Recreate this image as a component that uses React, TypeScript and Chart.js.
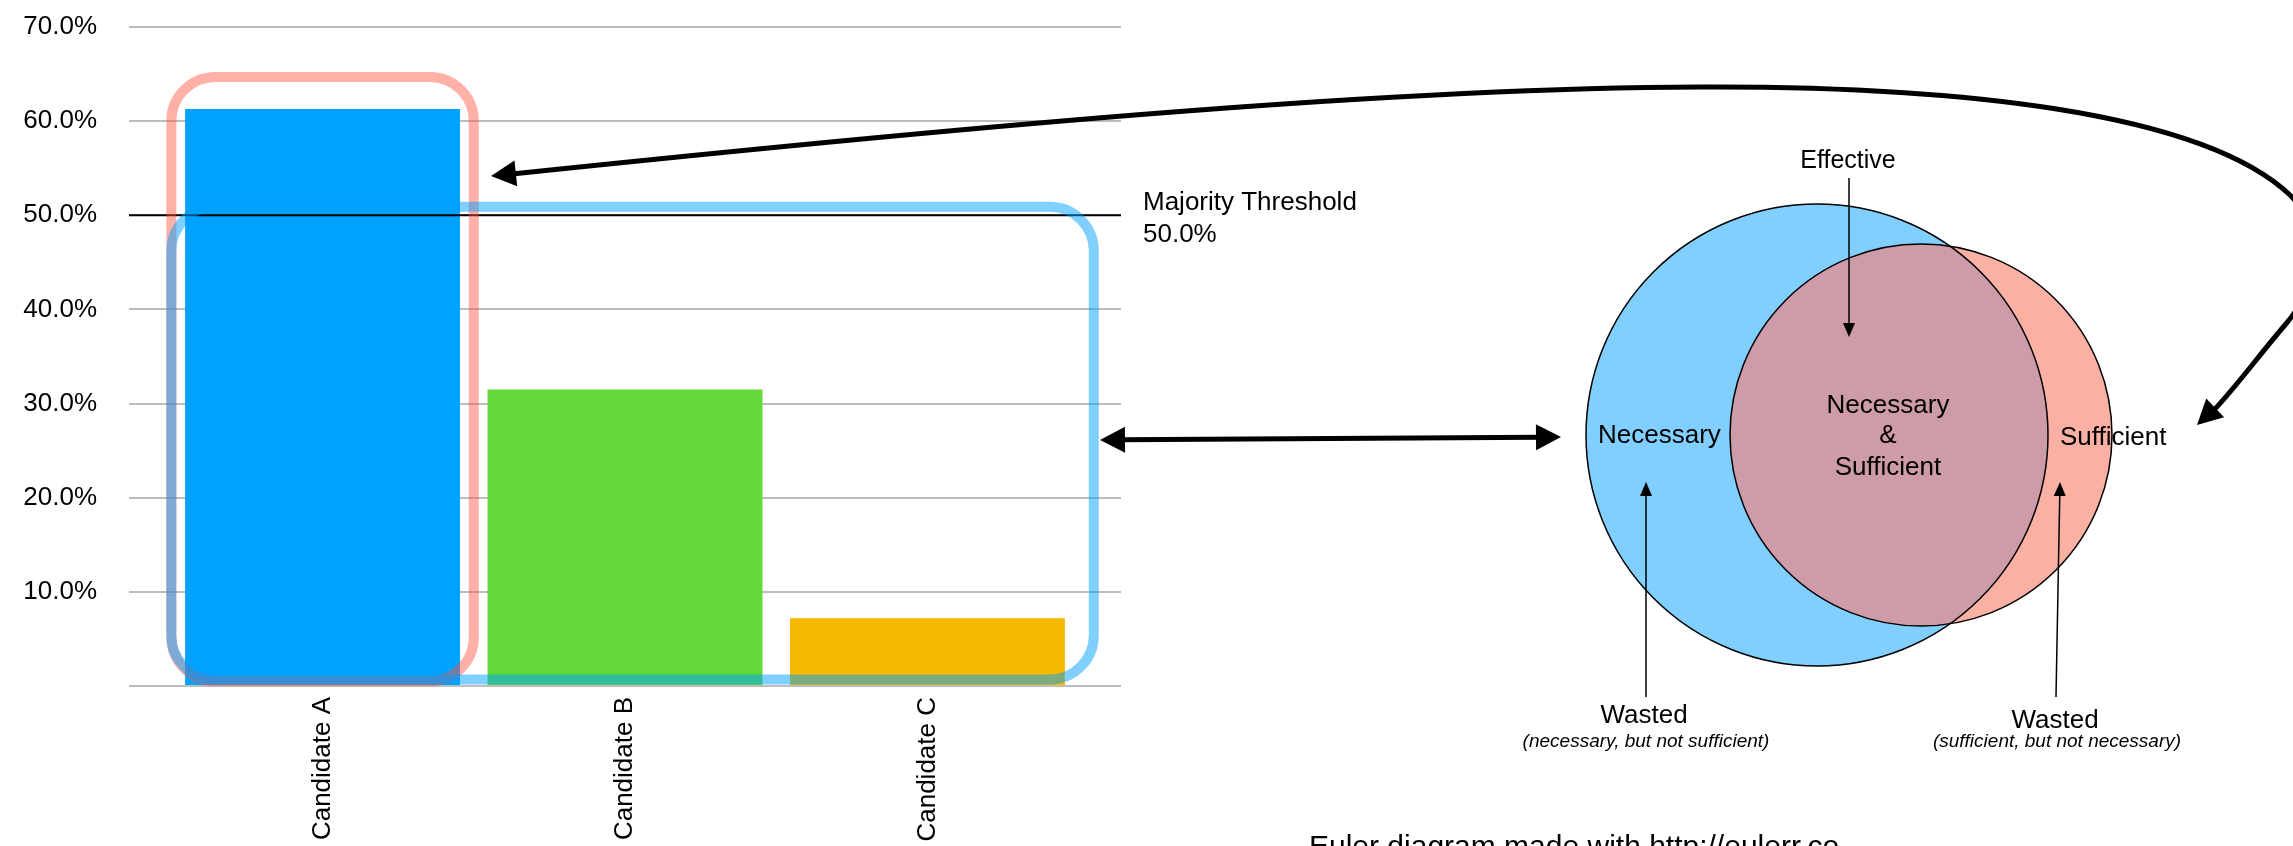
import { useEffect, useRef } from 'react';
import { Chart, registerables } from 'chart.js';

Chart.register(...registerables);

const FONT = "'Liberation Sans', Arial, Helvetica, sans-serif";

// Vote share per candidate (percent)
const candidates = ['Candidate A', 'Candidate B', 'Candidate C'];
const voteShare = [61.3, 31.5, 7.2];
const barColors = ['#00a2ff', '#62d938', '#f6b900'];

// Y axis ticks
const yTickValues = [0, 10, 20, 30, 40, 50, 60, 70];
const yTickLabels = ['', '10.0%', '20.0%', '30.0%', '40.0%', '50.0%', '60.0%', '70.0%'];

// Majority threshold reference line
const majorityThreshold = 50;
const thresholdLabel = ['Majority Threshold', '50.0%'];

// Rounded highlight frames, in data units (x = candidate index, y = percent)
const highlightBoxes = [
  { xMin: -0.5, xMax: 0.5, yMin: 0.5, yMax: 64.7, color: 'rgba(255, 80, 60, 0.45)' },
  { xMin: -0.5, xMax: 2.55, yMin: 0.7, yMax: 50.9, color: 'rgba(0, 160, 255, 0.5)' },
];

// Euler diagram of the two sets (canvas pixels)
const eulerSets = [
  { name: 'Necessary', cx: 1817, cy: 435, r: 231, fill: '#80cfff' },
  { name: 'Sufficient', cx: 1921, cy: 435, r: 191, fill: '#fbb0a4' },
];
const overlapFill = '#ce9ba8';

function arrowHead(ctx: CanvasRenderingContext2D, tipX: number, tipY: number, fromX: number, fromY: number, len: number, half: number) {
  const a = Math.atan2(tipY - fromY, tipX - fromX);
  const bx = tipX - len * Math.cos(a);
  const by = tipY - len * Math.sin(a);
  ctx.beginPath();
  ctx.moveTo(tipX, tipY);
  ctx.lineTo(bx + half * Math.sin(a), by - half * Math.cos(a));
  ctx.lineTo(bx - half * Math.sin(a), by + half * Math.cos(a));
  ctx.closePath();
  ctx.fill();
}

function straightArrow(ctx: CanvasRenderingContext2D, x0: number, y0: number, x1: number, y1: number, len: number, half: number, both = false) {
  const a = Math.atan2(y1 - y0, x1 - x0);
  const sx = both ? x0 + len * 0.8 * Math.cos(a) : x0;
  const sy = both ? y0 + len * 0.8 * Math.sin(a) : y0;
  ctx.beginPath();
  ctx.moveTo(sx, sy);
  ctx.lineTo(x1 - len * 0.8 * Math.cos(a), y1 - len * 0.8 * Math.sin(a));
  ctx.stroke();
  arrowHead(ctx, x1, y1, x0, y0, len, half);
  if (both) arrowHead(ctx, x0, y0, x1, y1, len, half);
}

const thresholdPlugin = {
  id: 'majorityThreshold',
  afterDatasetsDraw(chart: any) {
    const { ctx, chartArea, scales } = chart;
    const y = scales.y.getPixelForValue(majorityThreshold);
    ctx.save();
    ctx.strokeStyle = '#000';
    ctx.lineWidth = 2;
    ctx.beginPath();
    ctx.moveTo(chartArea.left, y);
    ctx.lineTo(chartArea.right, y);
    ctx.stroke();
    ctx.fillStyle = '#000';
    ctx.font = `26px ${FONT}`;
    ctx.textAlign = 'left';
    ctx.textBaseline = 'alphabetic';
    ctx.fillText(thresholdLabel[0], chartArea.right + 22, y - 5);
    ctx.fillText(thresholdLabel[1], chartArea.right + 22, y + 27);
    ctx.restore();
  },
};

const highlightPlugin = {
  id: 'highlightBoxes',
  afterDatasetsDraw(chart: any) {
    const { ctx, scales } = chart;
    ctx.save();
    ctx.lineWidth = 10;
    for (const b of highlightBoxes) {
      const l = scales.x.getPixelForValue(b.xMin);
      const r = scales.x.getPixelForValue(b.xMax);
      const t = scales.y.getPixelForValue(b.yMax);
      const bt = scales.y.getPixelForValue(b.yMin);
      ctx.strokeStyle = b.color;
      ctx.beginPath();
      ctx.roundRect(l, t, r - l, bt - t, 44);
      ctx.stroke();
    }
    ctx.restore();
  },
};

const eulerPlugin = {
  id: 'eulerDiagram',
  afterDraw(chart: any) {
    const ctx: CanvasRenderingContext2D = chart.ctx;
    const [nec, suf] = eulerSets;
    const circle = (s: typeof nec) => {
      ctx.beginPath();
      ctx.arc(s.cx, s.cy, s.r, 0, Math.PI * 2);
    };
    ctx.save();
    ctx.fillStyle = nec.fill;
    circle(nec);
    ctx.fill();
    ctx.fillStyle = suf.fill;
    circle(suf);
    ctx.fill();
    ctx.save();
    circle(nec);
    ctx.clip();
    ctx.fillStyle = overlapFill;
    circle(suf);
    ctx.fill();
    ctx.restore();
    ctx.strokeStyle = '#000';
    ctx.lineWidth = 1.5;
    circle(nec);
    ctx.stroke();
    circle(suf);
    ctx.stroke();

    // labels
    ctx.fillStyle = '#000';
    ctx.textBaseline = 'alphabetic';
    ctx.font = `25px ${FONT}`;
    ctx.textAlign = 'center';
    ctx.fillText('Effective', 1848, 168);
    ctx.font = `26px ${FONT}`;
    ctx.fillText('Necessary', 1888, 413);
    ctx.fillText('&', 1888, 443);
    ctx.fillText('Sufficient', 1888, 475);
    ctx.textAlign = 'left';
    ctx.fillText(nec.name, 1598, 443);
    ctx.fillText(suf.name, 2060, 445);
    ctx.textAlign = 'center';
    ctx.fillText('Wasted', 1644, 723);
    ctx.fillText('Wasted', 2055, 728);
    ctx.font = `italic 19px ${FONT}`;
    ctx.fillText('(necessary, but not sufficient)', 1646, 747);
    ctx.fillText('(sufficient, but not necessary)', 2057, 747);
    ctx.textAlign = 'left';
    ctx.font = `30px ${FONT}`;
    ctx.fillText('Euler diagram made with http://eulerr.co', 1309, 856);

    // thin pointer arrows
    ctx.strokeStyle = '#000';
    ctx.fillStyle = '#000';
    ctx.lineWidth = 1.5;
    straightArrow(ctx, 1849, 178, 1849, 337, 14, 6);
    straightArrow(ctx, 1646, 697, 1646, 482, 14, 6);
    straightArrow(ctx, 2056, 697, 2060, 482, 14, 6);

    // heavy arrows
    ctx.lineWidth = 5;
    straightArrow(ctx, 1100, 440, 1561, 437, 25, 13, true);
    ctx.beginPath();
    ctx.moveTo(512, 174);
    ctx.bezierCurveTo(1000, 123, 1400, 88, 1700, 87);
    ctx.bezierCurveTo(1950, 86, 2200, 110, 2290, 195);
    ctx.bezierCurveTo(2330, 235, 2315, 290, 2285, 325);
    ctx.bezierCurveTo(2260, 354, 2232, 392, 2212, 412);
    ctx.stroke();
    arrowHead(ctx, 491, 176, 1000, 123, 25, 13);
    arrowHead(ctx, 2197, 425, 2232, 392, 25, 13);
    ctx.restore();
  },
};

export default function App() {
  const ref = useRef<HTMLCanvasElement>(null);

  useEffect(() => {
    if (!ref.current) return;
    const chart = new Chart(ref.current, {
      type: 'bar',
      data: {
        datasets: [
          {
            data: voteShare.map((v, i) => ({ x: i, y: v })),
            backgroundColor: barColors,
            borderWidth: 0,
            categoryPercentage: 1,
            barPercentage: 0.909,
          },
        ],
      },
      options: {
        responsive: false,
        animation: false,
        devicePixelRatio: 1,
        layout: { padding: { left: 0, top: 27, right: 1172, bottom: 0 } },
        plugins: { legend: { display: false }, tooltip: { enabled: false } },
        scales: {
          x: {
            type: 'linear',
            min: -0.64,
            max: 2.64,
            offset: false,
            grid: { display: false },
            border: { display: false },
            afterBuildTicks: (axis: any) => {
              axis.ticks = candidates.map((_, i) => ({ value: i }));
            },
            afterFit: (axis: any) => {
              axis.height = 160;
            },
            ticks: {
              autoSkip: false,
              minRotation: 90,
              maxRotation: 90,
              padding: 3,
              color: '#000',
              font: { family: FONT, size: 26 },
              callback: (v: any) => candidates[Math.round(Number(v))] ?? '',
            },
          },
          y: {
            min: 0,
            max: 70,
            grid: { color: '#bdbdbd', lineWidth: 2, drawTicks: true, tickLength: 32, tickColor: 'rgba(0,0,0,0)' },
            border: { display: false },
            afterBuildTicks: (axis: any) => {
              axis.ticks = yTickValues.map((v) => ({ value: v }));
            },
            afterFit: (axis: any) => {
              axis.width = 129;
            },
            ticks: {
              padding: 0,
              color: '#000',
              font: { family: FONT, size: 26 },
              callback: (v: any) => yTickLabels[yTickValues.indexOf(Number(v))] ?? '',
            },
          },
        },
      },
      plugins: [thresholdPlugin, highlightPlugin, eulerPlugin],
    } as any);
    return () => chart.destroy();
  }, []);

  return (
    <div style={{ position: 'absolute', left: 0, top: 0, width: 2293, height: 846, background: '#fff', overflow: 'hidden' }}>
      <canvas ref={ref} width={2293} height={846} style={{ display: 'block' }} />
    </div>
  );
}
